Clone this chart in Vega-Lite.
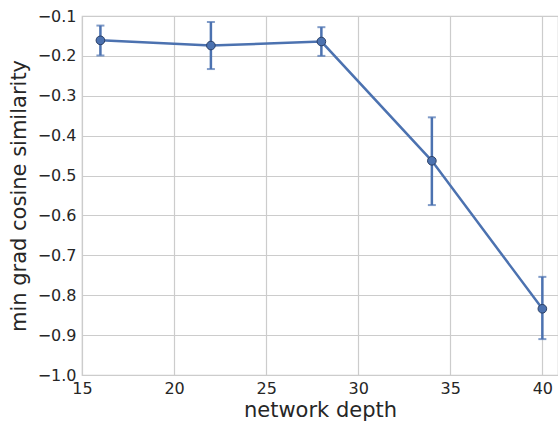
{
  "$schema": "https://vega.github.io/schema/vega-lite/v6.json",
  "autosize": "none",
  "width": 476,
  "height": 359,
  "padding": {"left": 82, "top": 16, "right": 0, "bottom": 50},
  "background": "white",
  "config": {
    "font": "DejaVu Sans",
    "view": {"stroke": "#cccccc", "strokeWidth": 1.2},
    "axis": {
      "grid": true,
      "gridColor": "#cccccc",
      "gridWidth": 1.2,
      "domain": false,
      "ticks": false,
      "labelFont": "DejaVu Sans",
      "labelFontSize": 16,
      "labelColor": "#262626",
      "labelOverlap": false,
      "labelFlush": false,
      "labelBound": false,
      "titleFont": "DejaVu Sans",
      "titleFontSize": 21,
      "titleFontWeight": "normal",
      "titleColor": "#262626"
    },
    "axisY": {
      "values": [-1.0, -0.9, -0.8, -0.7, -0.6, -0.5, -0.4, -0.3, -0.2, -0.1],
      "format": ".1f",
      "labelExpr": "replace(datum.label, '-', '\u2212')",
      "labelPadding": 6,
      "titlePadding": 8
    }
  },
  "data": {
    "values": [
      {"depth": 16, "sim": -0.161, "lo": -0.199, "hi": -0.124},
      {"depth": 22, "sim": -0.174, "lo": -0.233, "hi": -0.115},
      {"depth": 28, "sim": -0.164, "lo": -0.200, "hi": -0.128},
      {"depth": 34, "sim": -0.463, "lo": -0.574, "hi": -0.354},
      {"depth": 40, "sim": -0.834, "lo": -0.910, "hi": -0.754}
    ]
  },
  "encoding": {
    "x": {
      "field": "depth",
      "type": "quantitative",
      "scale": {"domain": [15, 40.85], "nice": false, "zero": false},
      "axis": {"values": [15, 20, 25, 30, 35, 40], "title": "network depth", "labelPadding": 5, "titlePadding": 3}
    }
  },
  "layer": [
    {
      "mark": {"type": "rule", "color": "#4C72B0", "strokeWidth": 2.5},
      "encoding": {
        "y": {
          "field": "lo",
          "type": "quantitative",
          "scale": {"domain": [-1.0, -0.1], "nice": false, "zero": false},
          "title": "min grad cosine similarity"
        },
        "y2": {"field": "hi"}
      }
    },
    {
      "mark": {"type": "tick", "orient": "horizontal", "color": "#4C72B0", "size": 8, "thickness": 2},
      "encoding": {
        "y": {"field": "lo", "type": "quantitative", "title": "min grad cosine similarity"}
      }
    },
    {
      "mark": {"type": "tick", "orient": "horizontal", "color": "#4C72B0", "size": 8, "thickness": 2},
      "encoding": {
        "y": {"field": "hi", "type": "quantitative", "title": "min grad cosine similarity"}
      }
    },
    {
      "mark": {"type": "line", "color": "#4C72B0", "strokeWidth": 2.5},
      "encoding": {
        "y": {"field": "sim", "type": "quantitative", "title": "min grad cosine similarity"}
      }
    },
    {
      "mark": {"type": "point", "filled": true, "size": 75, "color": "#4C72B0", "stroke": "#2a3f66", "strokeWidth": 1, "opacity": 1},
      "encoding": {
        "y": {"field": "sim", "type": "quantitative", "title": "min grad cosine similarity"}
      }
    }
  ]
}
